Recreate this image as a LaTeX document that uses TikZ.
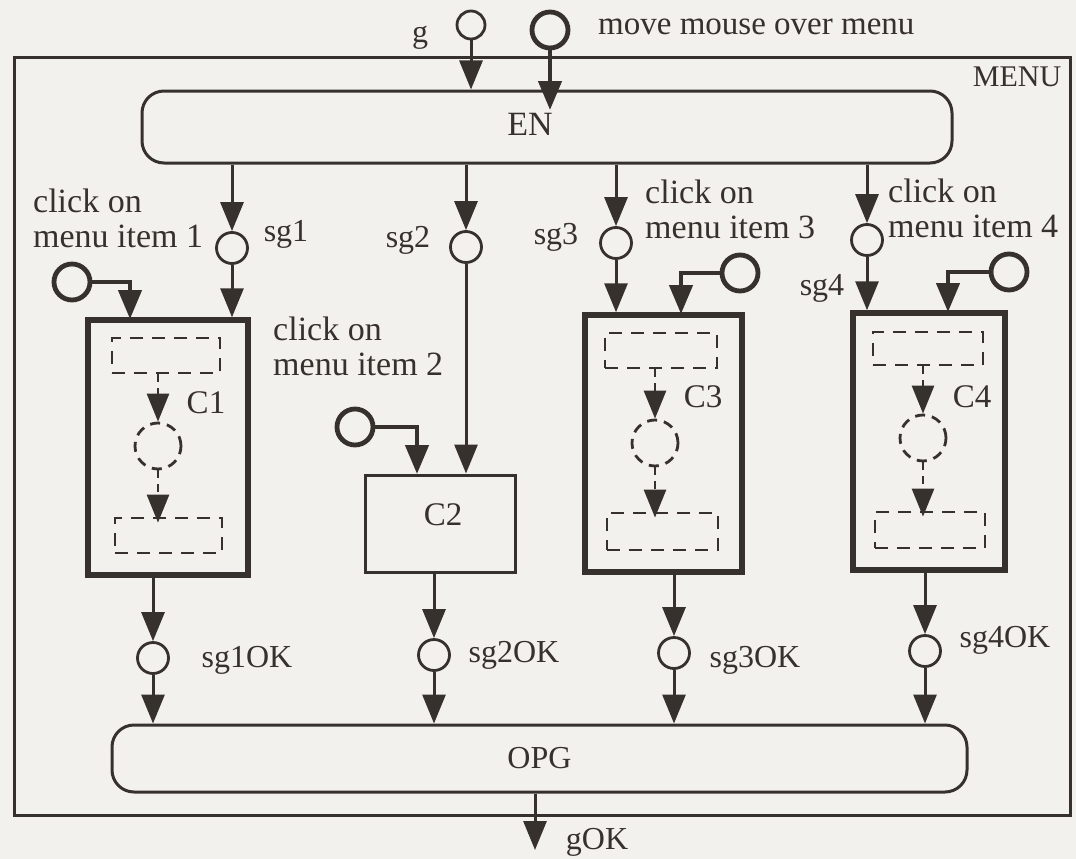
\documentclass[tikz,border=0pt]{standalone}
\usepackage{fontspec}
\setmainfont{Liberation Serif}
\usetikzlibrary{arrows.meta}
\definecolor{ink}{RGB}{55,49,45}
\definecolor{paper}{RGB}{243,241,237}
\begin{document}
\begin{tikzpicture}[x=1pt,y=-1pt,
  every node/.style={text=ink},
  lbl/.style={font=\fontsize{32}{35}\selectfont, inner sep=0pt, align=left},
  cklbl/.style={font=\fontsize{34}{35}\selectfont, inner sep=0pt, align=left, anchor=north west},
  clbl/.style={font=\fontsize{33}{33}\selectfont, inner sep=0pt},
  sgplace/.style={circle, draw=ink, line width=2.8pt, minimum size=31pt, inner sep=0pt},
  evplace/.style={circle, draw=ink, line width=4.8pt, minimum size=36pt, inner sep=0pt},
  thickbox/.style={rectangle, draw=ink, line width=5.5pt, inner sep=0pt},
  thinbox/.style={rectangle, draw=ink, line width=3pt, inner sep=0pt},
  dbox/.style={rectangle, draw=ink, line width=2.8pt, dash pattern=on 13pt off 9pt, inner sep=0pt},
  dplace/.style={circle, draw=ink, line width=2.8pt, dash pattern=on 10pt off 7pt, minimum size=46pt, inner sep=0pt},
  arr/.style={draw=ink, line width=3pt, -{Triangle[width=23pt,length=29pt]}},
  evarr/.style={draw=ink, line width=4.5pt, -{Triangle[width=23pt,length=29pt]}},
  darr/.style={draw=ink, line width=2.8pt, dash pattern=on 8pt off 6pt, -{Triangle[width=22pt,length=28pt]}},
]
\useasboundingbox (0,0) rectangle (1076,859);
\fill[paper] (0,0) rectangle (1076,859);

% outer MENU box
\node[thinbox, minimum width=1056pt, minimum height=757pt] (menu) at (542,436.5) {};
\node[lbl, font=\fontsize{30}{30}\selectfont] (menulbl) at (1017,77) {MENU};

% top places
\node[sgplace, minimum size=28pt] (g) at (471,25) {};
\node[lbl, anchor=base] (glbl) at (420,43) {g};
\node[evplace] (mouse) at (550,30) {};
\node[lbl, font=\fontsize{33}{33}\selectfont, anchor=base west] (movelbl) at (598,35) {move mouse over menu};

% EN
\node[draw=ink, line width=3pt, rounded corners=22pt, minimum width=810pt, minimum height=72pt] (en) at (547,127) {};
\node[lbl, font=\fontsize{34}{34}\selectfont] (entext) at (530,124) {EN};
\coordinate (mtip) at (550,110);
\draw[arr] (g.south) -- (g.south |- en.north);
\draw[evarr] (mouse.south) -- (mtip);

% sg places
\node[sgplace] (sg1) at (232,248) {};
\node[sgplace] (sg2) at (466,247) {};
\node[sgplace] (sg3) at (616,243) {};
\node[sgplace] (sg4) at (867,240) {};
\node[lbl] (sg1lbl) at (286,234) {sg1};
\node[lbl] (sg2lbl) at (408,240) {sg2};
\node[lbl] (sg3lbl) at (556,237) {sg3};
\node[lbl] (sg4lbl) at (822,288) {sg4};
\foreach \i in {1,2,3,4}{\draw[arr] (sg\i |- en.south) -- (sg\i.north);}

% click labels
\node[cklbl] (click1) at (33,189) {click on\\menu item 1};
\node[cklbl] (click2) at (273,317) {click on\\menu item 2};
\node[cklbl] (click3) at (645,180) {click on\\menu item 3};
\node[cklbl] (click4) at (888,179) {click on\\menu item 4};

% event places
\node[evplace] (ev1) at (72,282) {};
\node[evplace] (ev2) at (355,427) {};
\node[evplace] (ev3) at (740,273) {};
\node[evplace] (ev4) at (1009,272) {};

% C boxes
\node[thickbox, minimum width=160pt, minimum height=255pt] (c1) at (168,447.5) {};
\node[thinbox, minimum width=150pt, minimum height=97pt] (c2) at (440,523.5) {};
\node[thickbox, minimum width=157pt, minimum height=257pt] (c3) at (663.5,443.5) {};
\node[thickbox, minimum width=152pt, minimum height=257pt] (c4) at (929,441.5) {};
\node[clbl] (c1lbl) at (206,403) {C1};
\node[clbl] (c2lbl) at (443,515) {C2};
\node[clbl] (c3lbl) at (703,397) {C3};
\node[clbl] (c4lbl) at (972,397) {C4};

% sg -> C
\draw[arr] (sg1.south) -- (sg1.south |- c1.north);
\draw[arr] (sg2.south) -- (sg2.south |- c2.north);
\draw[arr] (sg3.south) -- (sg3.south |- c3.north);
\draw[arr] (sg4.south) -- (sg4.south |- c4.north);

% event -> C
\coordinate (in1) at (130,319);
\coordinate (in2) at (417,474);
\coordinate (in3) at (681,314);
\coordinate (in4) at (948,312);
\draw[evarr] (ev1.east) -| (in1);
\draw[evarr] (ev2.east) -| (in2);
\draw[evarr] (ev3.west) -| (in3);
\draw[evarr] (ev4.west) -| (in4);

% inner dashed structures
\node[dbox, minimum width=108pt, minimum height=35pt] (d1a) at (166,355.5) {};
\node[dplace] (d1c) at (158,446) {};
\node[dbox, minimum width=107pt, minimum height=35pt] (d1b) at (168.5,535.5) {};
\draw[darr] (d1c.north |- d1a.south) -- (d1c.north);
\draw[darr] (d1c.south) -- ([yshift=-6pt]d1c.south |- d1b.north);

\node[dbox, minimum width=112pt, minimum height=35pt] (d3a) at (661,350.5) {};
\node[dplace] (d3c) at (655,443) {};
\node[dbox, minimum width=111pt, minimum height=37pt] (d3b) at (662.5,531.5) {};
\draw[darr] (d3c.north |- d3a.south) -- (d3c.north);
\draw[darr] (d3c.south) -- ([yshift=-6pt]d3c.south |- d3b.north);

\node[dbox, minimum width=110pt, minimum height=33pt] (d4a) at (928,348.5) {};
\node[dplace] (d4c) at (923,438) {};
\node[dbox, minimum width=110pt, minimum height=36pt] (d4b) at (930,530) {};
\draw[darr] (d4c.north |- d4a.south) -- (d4c.north);
\draw[darr] (d4c.south) -- ([yshift=-6pt]d4c.south |- d4b.north);

% OK places
\node[sgplace] (ok1) at (153,658) {};
\node[sgplace] (ok2) at (434,655) {};
\node[sgplace] (ok3) at (674,653) {};
\node[sgplace] (ok4) at (925,651) {};
\node[lbl] (ok1lbl) at (247,660) {sg1OK};
\node[lbl] (ok2lbl) at (514,655) {sg2OK};
\node[lbl] (ok3lbl) at (755,660) {sg3OK};
\node[lbl] (ok4lbl) at (1005,640) {sg4OK};

% OPG
\node[draw=ink, line width=3pt, rounded corners=22pt, minimum width=855pt, minimum height=67pt, font=\fontsize{32}{32}\selectfont] (opg) at (539.5,758.5) {OPG};

% C -> OK -> OPG
\draw[arr] (ok1 |- c1.south) -- (ok1.north);
\draw[arr] (ok2 |- c2.south) -- (ok2.north);
\draw[arr] (ok3 |- c3.south) -- (ok3.north);
\draw[arr] (ok4 |- c4.south) -- (ok4.north);
\foreach \i in {1,2,3,4}{\draw[arr] (ok\i.south) -- (ok\i.south |- opg.north);}

% gOK
\coordinate (gtip) at (535,850);
\draw[arr] (gtip |- opg.south) -- (gtip);
\node[lbl] (goklbl) at (597,842) {gOK};
\end{tikzpicture}
\end{document}
